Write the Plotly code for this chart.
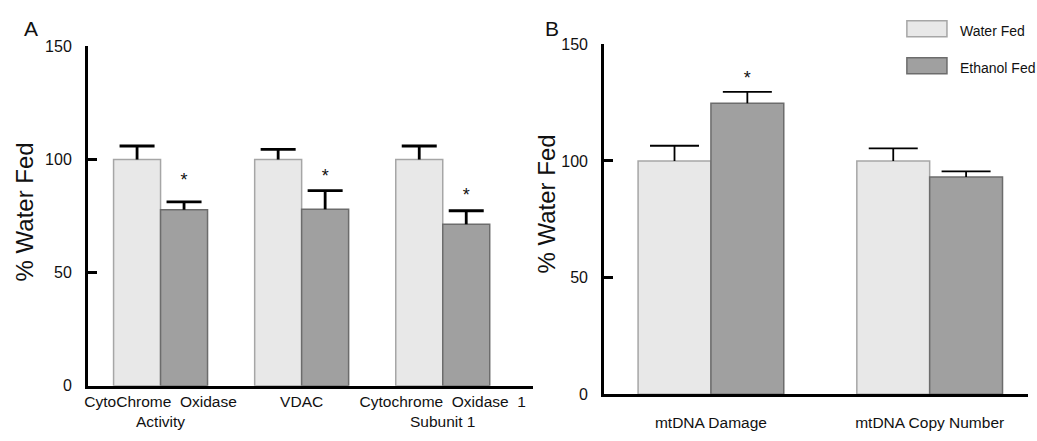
import plotly.graph_objects as go

# ---- data ----
cats_a = ["CytoChrome\u00a0\u00a0Oxidase<br>Activity", "VDAC", "Cytochrome\u00a0\u00a0Oxidase\u00a0\u00a01<br>Subunit 1"]
water_a = [100, 100, 100]
water_a_err = [6.0, 4.5, 6.0]
eth_a = [77.8, 78.1, 71.4]
eth_a_err = [3.5, 8.2, 6.0]
sig_a_y = [90.2, 92.0, 83.6]

cats_b = ["mtDNA Damage", "mtDNA Copy Number"]
water_b = [100, 100]
water_b_err = [6.5, 5.4]
eth_b = [124.7, 93.1]
eth_b_err = [4.9, 2.4]
sig_b_y = [135.0]
sig_b_idx = [0]

yticks = [0, 50, 100, 150]
series_names = ["Water Fed", "Ethanol Fed"]

FONT = "Arial, 'Liberation Sans', sans-serif"
TXT = "#111111"
W_FILL, W_LINE = "#e8e8e8", "#a6a6a6"
E_FILL, E_LINE = "#a0a0a0", "#6c6c6c"
BW = 0.333  # bar width in category units

fig = go.Figure()


def add_bars(n, vals, errs, fill, line, side, xa, ya, name, cap_px, thick):
    xs = [i + side * BW / 2 for i in range(n)]
    fig.add_trace(go.Bar(
        x=xs, y=vals, width=[BW] * n, name=name, xaxis=xa, yaxis=ya, showlegend=False,
        marker=dict(color=fill, line=dict(color=line, width=1.5)),
    ))
    # upward-only error bars: stem + cap
    lx, ly = [], []
    for x, v, e in zip(xs, vals, errs):
        lx += [x, x, None]
        ly += [v, v + e, None]
    fig.add_trace(go.Scatter(x=lx, y=ly, mode="lines", xaxis=xa, yaxis=ya, showlegend=False,
                             line=dict(color="black", width=thick), hoverinfo="skip"))
    fig.add_trace(go.Scatter(x=xs, y=[v + e for v, e in zip(vals, errs)], mode="markers",
                             xaxis=xa, yaxis=ya, showlegend=False, hoverinfo="skip",
                             marker=dict(symbol="line-ew", size=cap_px,
                                         line=dict(color="black", width=thick))))


add_bars(3, water_a, water_a_err, W_FILL, W_LINE, -1, "x", "y", series_names[0], 25, 2.8)
add_bars(3, eth_a, eth_a_err, E_FILL, E_LINE, 1, "x", "y", series_names[1], 25, 2.8)
add_bars(2, water_b, water_b_err, W_FILL, W_LINE, -1, "x2", "y2", series_names[0], 35, 1.8)
add_bars(2, eth_b, eth_b_err, E_FILL, E_LINE, 1, "x2", "y2", series_names[1], 35, 1.8)

# significance asterisks
fig.add_trace(go.Scatter(x=[i + BW / 2 for i in range(len(sig_a_y))], y=sig_a_y, mode="text",
                         text=["*"] * len(sig_a_y), textposition="middle center",
                         textfont=dict(size=18, color=TXT, family=FONT),
                         xaxis="x", yaxis="y", showlegend=False, hoverinfo="skip"))
fig.add_trace(go.Scatter(x=[i + BW / 2 for i in sig_b_idx], y=sig_b_y, mode="text",
                         text=["*"] * len(sig_b_y), textposition="middle center",
                         textfont=dict(size=18, color=TXT, family=FONT),
                         xaxis="x2", yaxis="y2", showlegend=False, hoverinfo="skip"))

H = 441.0
Wd = 1037.0
axis_common = dict(showline=True, linecolor="black", linewidth=2.5, showgrid=False, zeroline=False)

fig.update_layout(
    width=1037, height=441, margin=dict(l=0, r=0, t=0, b=0),
    paper_bgcolor="white", plot_bgcolor="white",
    font=dict(family=FONT, color=TXT),
    xaxis=dict(domain=[85 / Wd, 532 / Wd], range=[-0.516, 2.643], anchor="y", ticks="",
               tickvals=list(range(len(cats_a))), ticktext=cats_a,
               tickfont=dict(size=15.5), **axis_common),
    yaxis=dict(domain=[(H - 393) / H, (H - 40) / H], range=[0, 150], anchor="x",
               tickvals=yticks, ticks="inside", ticklen=9, tickwidth=2.5, tickcolor="black",
               tickfont=dict(size=16), ticklabelstandoff=10, **axis_common),
    xaxis2=dict(domain=[602.7 / Wd, 1028.3 / Wd], range=[-0.489, 1.451], anchor="y2", ticks="",
                tickvals=list(range(len(cats_b))), ticktext=cats_b,
                tickfont=dict(size=15.5), ticklabelstandoff=12, **axis_common),
    yaxis2=dict(domain=[(H - 401.7) / H, (H - 37.7) / H], range=[0, 150], anchor="x2",
                tickvals=yticks, ticks="inside", ticklen=9, tickwidth=2.5, tickcolor="black",
                tickfont=dict(size=16), ticklabelstandoff=10, **axis_common),
)

ann = []
# axis titles and panel letters
ann.append(dict(x=21.7 / Wd, y=(H - 212) / H, xref="paper", yref="paper", text="% Water Fed",
                textangle=-90, showarrow=False, xanchor="center", yanchor="middle",
                font=dict(size=24)))
ann.append(dict(x=545 / Wd, y=(H - 204) / H, xref="paper", yref="paper", text="% Water Fed",
                textangle=-90, showarrow=False, xanchor="center", yanchor="middle",
                font=dict(size=24)))
ann.append(dict(x=28 / Wd, y=(H - 21.5) / H, xref="paper", yref="paper", text="A",
                showarrow=False, xanchor="center", yanchor="middle", font=dict(size=21)))
ann.append(dict(x=551 / Wd, y=(H - 21.5) / H, xref="paper", yref="paper", text="B",
                showarrow=False, xanchor="center", yanchor="middle", font=dict(size=21)))

# legend
shapes = []
leg = [(series_names[0], W_FILL, W_LINE, 13.3, 30.0), (series_names[1], E_FILL, E_LINE, 51.7, 68.3)]
for name, fill, line, y0, y1 in leg:
    shapes.append(dict(type="rect", xref="paper", yref="paper", x0=906.5 / Wd, x1=946.7 / Wd,
                       y0=(H - y1) / H, y1=(H - y0) / H, fillcolor=fill,
                       line=dict(color=line, width=1.5)))
    ann.append(dict(x=958 / Wd, y=(H - (y0 + y1) / 2 - 2) / H, xref="paper", yref="paper",
                    text=name, showarrow=False, xanchor="left", yanchor="middle",
                    font=dict(size=14)))

fig.update_layout(annotations=ann, shapes=shapes)
fig.write_html("out.html")
